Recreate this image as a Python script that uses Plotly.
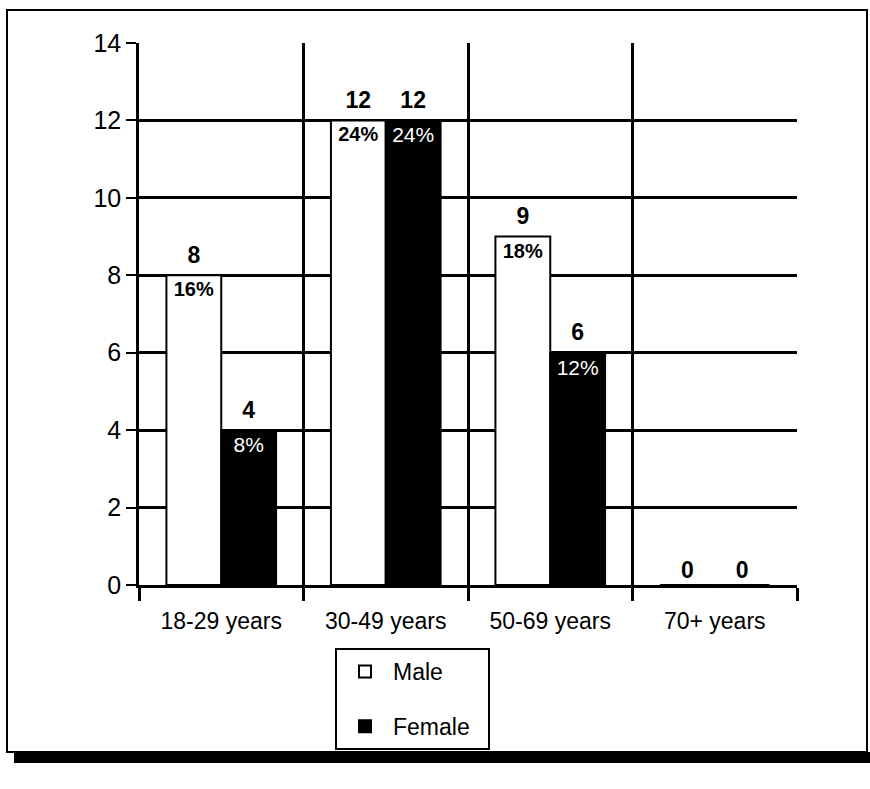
import plotly.graph_objects as go

# Respondents by age group and sex
age_groups = ["18-29 years", "30-49 years", "50-69 years", "70+ years"]
male_counts = [8, 12, 9, 0]
female_counts = [4, 12, 6, 0]
male_pct = ["16%", "24%", "18%", ""]
female_pct = ["8%", "24%", "12%", ""]
y_ticks = [0, 2, 4, 6, 8, 10, 12, 14]

W, H = 870, 789
L, R, T, B = 139, 73, 43, 204
FONT = "Arial, Liberation Sans, sans-serif"
BAR_W = 1 / 3
NBSP = "\u00a0"

idx = list(range(len(age_groups)))
male_x = [i - BAR_W / 2 for i in idx]
female_x = [i + BAR_W / 2 for i in idx]
all_counts = male_counts + female_counts


def px_x(p):
    return (p - L) / (W - L - R)


def px_y(p):
    return (H - B - p) / (H - T - B)


fig = go.Figure()

fig.add_trace(go.Bar(
    x=male_x, y=male_counts, width=BAR_W, name="Male" + NBSP * 5,
    marker=dict(color="white", line=dict(color="black", width=2)),
    text=male_pct, textposition="inside", insidetextanchor="end",
    textangle=0, textfont=dict(family=FONT, size=20, color="black", weight="bold"),
    legendgroup="m",
))
fig.add_trace(go.Bar(
    x=female_x, y=female_counts, width=BAR_W, name="Female" + NBSP * 2,
    marker=dict(color="black", line=dict(color="black", width=2)),
    text=female_pct, textposition="inside", insidetextanchor="end",
    textangle=0, textfont=dict(family=FONT, size=21, color="white"),
    legendgroup="f",
))

# Count labels above each bar (invisible markers lift the text off the bar top)
fig.add_trace(go.Scatter(
    x=male_x + female_x, y=all_counts, mode="markers+text",
    marker=dict(size=[9 if v > 0 else 1 for v in all_counts],
                color="rgba(0,0,0,0)", opacity=0, line=dict(width=0)),
    text=[str(v) for v in all_counts],
    textposition="top center",
    textfont=dict(family=FONT, size=23, color="black", weight="bold"),
    showlegend=False, hoverinfo="skip", cliponaxis=False,
))

fig.update_layout(
    width=W, height=H,
    margin=dict(l=L, r=R, t=T, b=B),
    paper_bgcolor="white", plot_bgcolor="white",
    barmode="overlay",
    font=dict(family=FONT, size=23, color="black"),
    showlegend=True,
    legend=dict(
        x=px_x(335), y=px_y(648), xanchor="left", yanchor="top",
        bordercolor="black", borderwidth=2, bgcolor="white",
        font=dict(family=FONT, size=23, color="black"),
        tracegroupgap=22, itemwidth=46,
        itemclick=False, itemdoubleclick=False,
    ),
    xaxis=dict(
        range=[-0.5, len(age_groups) - 0.5],
        tickmode="array", tickvals=idx, ticktext=age_groups,
        ticks="", showgrid=False, zeroline=False,
        showline=True, linecolor="black", linewidth=2.5,
        tickfont=dict(family=FONT, size=23, color="black"),
        ticklabelstandoff=14,
        minor=dict(
            tickmode="linear", tick0=-0.5, dtick=1,
            ticks="outside", ticklen=13, tickwidth=2.5, tickcolor="black",
            showgrid=True, gridcolor="black", gridwidth=2.5,
        ),
    ),
    yaxis=dict(
        range=[0, 14], tickmode="array", tickvals=y_ticks,
        showgrid=True, gridcolor="black", gridwidth=2.5,
        zeroline=False, showline=True, linecolor="black", linewidth=2.5,
        ticks="outside", ticklen=10, tickwidth=2, tickcolor="black",
        tickfont=dict(family=FONT, size=25, color="black"),
    ),
    shapes=[
        # outer frame
        dict(type="rect", xref="paper", yref="paper",
             x0=px_x(7), x1=px_x(867), y0=px_y(752), y1=px_y(10),
             line=dict(color="black", width=2), layer="below"),
        # drop shadow along the bottom edge
        dict(type="rect", xref="paper", yref="paper",
             x0=px_x(14), x1=px_x(870), y0=px_y(763), y1=px_y(752),
             line=dict(width=0), fillcolor="black"),
    ],
)

fig.write_html("out.html")
